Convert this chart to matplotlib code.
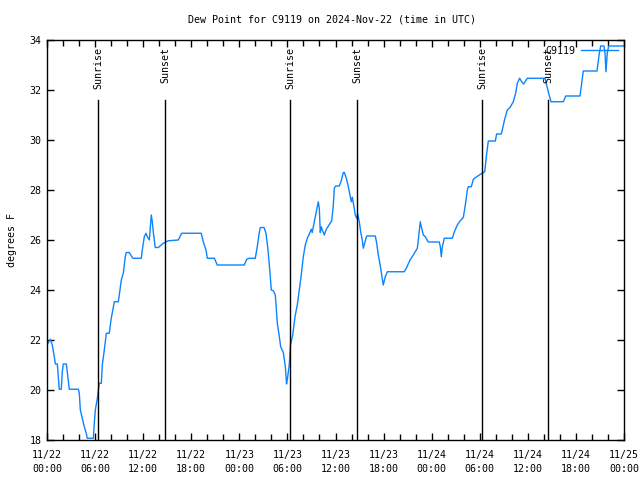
import numpy as np
import matplotlib
matplotlib.use("Agg")
from matplotlib import pyplot as plt

# hours since 2024-11-22 00:00 UTC
hours = [0.0, 0.41, 0.66, 0.91, 1.04, 1.29, 1.53, 1.78, 1.91, 2.03, 2.41, 2.53, 2.78, 3.91, 4.03,
         4.16, 4.40, 4.65, 4.90, 5.03, 5.78, 5.90, 6.03, 6.28, 6.40, 6.53, 6.78, 6.90, 7.15, 7.40,
         7.77, 7.90, 8.02, 8.27, 8.40, 8.90, 9.02, 9.27, 9.52, 9.77, 9.90, 10.27, 10.64, 10.77,
         11.77, 11.89, 12.14, 12.35, 12.52, 12.77, 12.89, 13.01, 13.14, 13.26, 13.39, 13.51,
         13.89, 14.51, 15.14, 16.38, 16.81, 19.25, 19.50, 19.84, 20.0, 20.88, 21.25, 24.62,
         24.92, 25.24, 25.99, 26.24, 26.49, 26.62, 27.08, 27.33, 27.58, 27.83, 27.99, 28.24,
         28.49, 28.74, 28.99, 29.16, 29.49, 29.74, 29.89, 30.01, 30.23, 30.38, 30.66, 30.95,
         31.23, 31.48, 31.73, 31.98, 32.23, 32.48, 32.73, 32.98, 33.10, 33.23, 33.48, 33.73,
         33.85, 33.98, 34.10, 34.23, 34.35, 34.60, 34.85, 35.19, 35.53, 35.73, 35.85, 36.03,
         36.47, 36.72, 36.97, 37.10, 37.35, 37.60, 37.85, 37.97, 38.10, 38.27, 38.47, 38.65,
         38.77, 38.97, 39.14, 39.34, 39.47, 39.64, 39.89, 40.97, 41.14, 41.34, 41.55, 41.77,
         41.96, 42.21, 42.46, 44.58, 44.88, 45.30, 45.71, 46.21, 46.33, 46.58, 46.71, 46.96,
         47.21, 47.58, 48.95, 49.08, 49.20, 49.33, 49.58, 50.58, 50.83, 51.20, 51.57, 51.95,
         52.20, 52.45, 52.57, 52.95, 53.20, 53.62, 53.94, 54.32, 54.62, 54.87, 55.07, 55.94,
         56.11, 56.69, 56.86, 57.11, 57.44, 57.77, 58.19, 58.49, 58.69, 58.98, 59.23, 59.48,
         59.93, 62.14, 62.35, 62.60, 62.89, 64.43, 64.73, 66.51, 66.92, 68.63, 68.92, 69.09,
         69.50, 69.63, 69.75, 69.91, 70.09, 72.0]
dewpoint = [21.8, 22.03, 21.8, 21.33, 21.04, 21.04, 20.03, 20.03, 20.73, 21.04, 21.04, 20.73, 20.03,
            20.03, 19.87, 19.2, 18.87, 18.53, 18.27, 18.07, 18.07, 18.67, 19.2, 19.67, 20.0, 20.27,
            20.27, 21.0, 21.6, 22.27, 22.27, 22.6, 22.87, 23.3, 23.53, 23.53, 23.8, 24.4, 24.67,
            25.33, 25.5, 25.5, 25.3, 25.27, 25.27, 25.6, 26.13, 26.27, 26.13, 26.0, 26.53, 27.0,
            26.73, 26.33, 26.0, 25.7, 25.7, 25.87, 25.97, 26.0, 26.27, 26.27, 25.93, 25.6, 25.27,
            25.27, 25.0, 25.0, 25.23, 25.27, 25.27, 25.73, 26.3, 26.5, 26.5, 26.27, 25.6, 24.67,
            24.0, 23.97, 23.8, 22.67, 22.13, 21.73, 21.5, 20.93, 20.24, 20.47, 21.0, 21.8, 22.2,
            22.93, 23.4, 24.0, 24.6, 25.33, 25.8, 26.07, 26.24, 26.43, 26.3, 26.53, 26.93, 27.33,
            27.53, 27.27, 26.3, 26.53, 26.4, 26.2, 26.43, 26.6, 26.77, 27.4, 28.07, 28.16, 28.16,
            28.37, 28.7, 28.7, 28.47, 28.13, 27.73, 27.53, 27.71, 27.4, 27.0, 26.87, 27.04, 26.73,
            26.33, 26.0, 25.67, 25.87, 26.16, 26.16, 25.87, 25.4, 25.04, 24.6, 24.2, 24.53, 24.73,
            24.73, 24.9, 25.2, 25.4, 25.67, 26.0, 26.73, 26.53, 26.2, 26.13, 25.92, 25.92, 25.73,
            25.33, 25.73, 26.07, 26.07, 26.33, 26.6, 26.77, 26.9, 27.4, 28.0, 28.13, 28.13, 28.43,
            28.53, 28.6, 28.67, 28.73, 29.47, 29.96, 29.96, 30.24, 30.24, 30.47, 30.83, 31.2, 31.3,
            31.53, 31.89, 32.27, 32.47, 32.33, 32.24, 32.47, 32.47, 32.2, 31.87, 31.53, 31.53,
            31.76, 31.76, 32.76, 32.76, 33.47, 33.76, 33.76, 33.47, 32.73, 33.47, 33.76, 33.76]

sun_hours = [6.40, 14.76, 30.32, 38.72, 54.32, 62.56]
sun_labels = ["Sunrise", "Sunset", "Sunrise", "Sunset", "Sunrise", "Sunset"]

tick_hours = list(range(0, 73, 6))
tick_labels = ["11/22\n00:00", "11/22\n06:00", "11/22\n12:00", "11/22\n18:00",
               "11/23\n00:00", "11/23\n06:00", "11/23\n12:00", "11/23\n18:00",
               "11/24\n00:00", "11/24\n06:00", "11/24\n12:00", "11/24\n18:00",
               "11/25\n00:00"]

plt.rcParams['font.family'] = ['DejaVu Sans Mono']
plt.rcParams['font.size'] = 7.2

fig = plt.figure(figsize=(6.4, 4.8), dpi=100)
ax = fig.add_axes([47 / 640, 40 / 480, 577 / 640, 400 / 480])

ax.plot(hours, dewpoint, color="#0a84ff", lw=1.0, label="C9119")

for h, lab in zip(sun_hours, sun_labels):
    ax.plot([h, h], [18, 31.6], color="black", lw=1.0)
    ax.text(h, 33.7, lab, rotation=90, ha="center", va="top", fontsize=7.2)

ax.set_xlim(0, 72)
ax.set_ylim(18, 34)
ax.set_xticks(tick_hours)
ax.set_xticklabels(tick_labels, linespacing=1.55)
ax.set_xticks(range(0, 73, 2), minor=True)
ax.set_yticks(range(18, 35, 2))
ax.tick_params(which="both", direction="in", top=True, right=True, width=1.0)
ax.tick_params(which="major", length=5, pad=4)
ax.tick_params(axis="x", which="major", pad=7)
ax.tick_params(which="minor", length=4)
for s in ax.spines.values():
    s.set_linewidth(1.0)

ax.set_ylabel("degrees F", labelpad=9)
fig.text(332 / 640, 1 - 19 / 480, "Dew Point for C9119 on 2024-Nov-22 (time in UTC)",
         ha="center", va="center", fontsize=7.2)

ax.legend(loc="upper right", frameon=False, markerfirst=False, handlelength=3.7,
          borderaxespad=0.2, handletextpad=0.6, fontsize=7.2)

fig.savefig("out.png", dpi=100)
